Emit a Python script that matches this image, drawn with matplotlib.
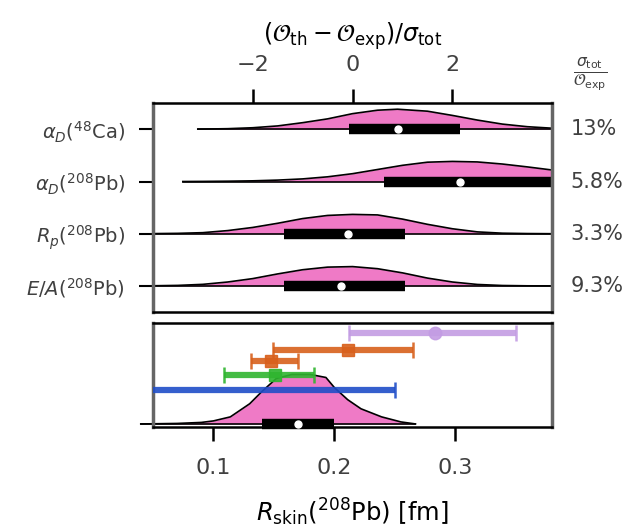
import numpy as np
import matplotlib
matplotlib.use('Agg')
import matplotlib.pyplot as plt

# ---- top panel: pulls (O_th - O_exp)/sigma_tot, half violins
obs_labels = [r'$\alpha_D(^{48}$Ca)', r'$\alpha_D(^{208}$Pb)',
              r'$R_p(^{208}$Pb)', r'$E/A(^{208}$Pb)']
rel_err = ['13%', '5.8%', '3.3%', '9.3%']

pull_x = [
    [-3.1, -2.5, -2.0, -1.5, -1.0, -0.5, 0.0, 0.5, 0.9, 1.5, 2.0, 2.5, 3.0, 3.5, 4.0],
    [-3.4, -3.0, -2.5, -2.0, -1.5, -1.0, -0.5, 0.0, 0.5, 1.0, 1.5, 2.0, 2.5, 3.0, 3.5, 4.0],
    [-4.0, -3.5, -3.0, -2.5, -2.0, -1.5, -1.0, -0.5, 0.0, 0.5, 1.0, 1.5, 2.0, 2.5, 3.0, 3.5, 4.0],
    [-4.0, -3.5, -3.0, -2.5, -2.0, -1.5, -1.0, -0.5, 0.0, 0.5, 1.0, 1.5, 2.0, 2.5, 3.0, 3.5, 4.0],
]
pull_h = [
    [0.003, 0.012, 0.03, 0.065, 0.127, 0.2, 0.3, 0.366, 0.385, 0.347, 0.266, 0.177, 0.1, 0.05, 0.021],
    [0.0, 0.002, 0.006, 0.013, 0.027, 0.05, 0.09, 0.15, 0.23, 0.31, 0.37, 0.385, 0.375, 0.335, 0.28, 0.22],
    [0.002, 0.007, 0.02, 0.06, 0.12, 0.2, 0.29, 0.35, 0.37, 0.36, 0.28, 0.18, 0.095, 0.035, 0.01, 0.003, 0.0],
    [0.003, 0.01, 0.03, 0.075, 0.14, 0.23, 0.31, 0.36, 0.37, 0.33, 0.25, 0.15, 0.075, 0.028, 0.008, 0.002, 0.0],
]
pull_q1 = [-0.08, 0.62, -1.38, -1.38]
pull_q3 = [2.16, 4.2, 1.06, 1.06]
pull_med = [0.92, 2.16, -0.1, -0.24]

# ---- bottom panel: Rskin(208Pb) posterior and measurements
skin_x = [0.04, 0.07, 0.09, 0.1, 0.114, 0.13, 0.14, 0.152, 0.165, 0.18, 0.193, 0.2,
          0.211, 0.222, 0.239, 0.255, 0.267]
skin_h = [0.0, 0.005, 0.015, 0.03, 0.07, 0.2, 0.32, 0.45, 0.49, 0.49, 0.46, 0.36,
          0.24, 0.15, 0.07, 0.02, 0.0]
skin_q1, skin_q3, skin_med = 0.14, 0.2, 0.17

meas_val = [0.15, 0.151, 0.148, 0.211, 0.283]
meas_lo = [0.04, 0.109, 0.131, 0.149, 0.212]
meas_hi = [0.25, 0.183, 0.17, 0.265, 0.35]
meas_y = [0.34, 0.48, 0.62, 0.73, 0.9]
meas_col = ['#1f4ec8', '#2fb52f', '#d8601c', '#d8601c', '#c39ce3']
meas_mk = ['none', 's', 's', 's', 'o']

pink = '#ef7ac6'
fs = 16

fig = plt.figure(figsize=(6.24, 5.32), dpi=100)
ax1 = fig.add_axes([0.245, 0.4135, 0.64, 0.3925])
ax2 = fig.add_axes([0.245, 0.1974, 0.64, 0.1956])

n = len(obs_labels)
for i in range(n):
    y0 = n - 1 - i
    x = np.array(pull_x[i])
    h = np.array(pull_h[i])
    ax1.fill_between(x, y0, y0 + h, color=pink, lw=0)
    ax1.plot(x, y0 + h, color='k', lw=1.2)
    ax1.plot([x[0], 4.0], [y0, y0], color='k', lw=1.2)
    ax1.plot([pull_q1[i], pull_q3[i]], [y0, y0], color='k', lw=7.5,
             solid_capstyle='butt')
    ax1.plot(pull_med[i], y0, 'o', color='white', ms=5, zorder=5)
    ax1.text(1.045, y0, rel_err[i], transform=ax1.get_yaxis_transform(),
             fontsize=15, va='center', ha='left', color='0.25')

ax1.set_xlim(-4, 4)
ax1.set_ylim(-0.5, n - 0.5)
ax1.set_yticks(range(n))
ax1.set_yticklabels(obs_labels[::-1], fontsize=14, color='0.25')
ax1.xaxis.tick_top()
ax1.xaxis.set_label_position('top')
ax1.set_xticks([-2, 0, 2])
ax1.set_xlabel(r'$(\mathcal{O}_{\rm th}-\mathcal{O}_{\rm exp})/\sigma_{\rm tot}$',
               fontsize=17, labelpad=10)
ax1.tick_params(axis='x', labelsize=fs, length=10, width=1.8, pad=10)
ax1.tick_params(axis='y', length=10, width=1.5, pad=10)
fig.text(0.945, 0.86, r'$\frac{\sigma_{\rm tot}}{\mathcal{O}_{\rm exp}}$',
         fontsize=fs, ha='center', va='center', color='0.25')

# bottom panel
sx = np.array(skin_x)
sh = np.array(skin_h)
ax2.fill_between(sx, 0, sh, color=pink, lw=0, zorder=1)
ax2.plot(sx, sh, color='k', lw=1.2, zorder=2, clip_on=False)
ax2.plot([sx[0], sx[-1]], [0, 0], color='k', lw=1.2, zorder=2, clip_on=False)
ax2.plot([skin_q1, skin_q3], [0, 0], color='k', lw=7.5, solid_capstyle='butt',
         zorder=3, clip_on=False)
ax2.plot(skin_med, 0, 'o', color='white', ms=5, zorder=4, clip_on=False)

for v, lo, hi, y, c, m in zip(meas_val, meas_lo, meas_hi, meas_y, meas_col, meas_mk):
    ax2.errorbar(v, y, xerr=[[v - lo], [hi - v]], fmt=m, color=c, ms=9, lw=4.5,
                 capsize=6, capthick=1.8, alpha=0.9, zorder=3)

ax2.set_xlim(0.05, 0.38)
ax2.set_ylim(-0.03, 1.0)
ax2.set_yticks([])
ax2.set_xticks([0.1, 0.2, 0.3])
ax2.tick_params(axis='x', labelsize=fs, length=10, width=1.8, pad=12)
ax2.set_xlabel(r'$R_{\rm skin}(^{208}$Pb) [fm]', fontsize=17.5, labelpad=14)

for ax in (ax1, ax2):
    for s in ('left', 'right'):
        ax.spines[s].set_linewidth(2.5)
        ax.spines[s].set_color('0.4')
    for s in ('top', 'bottom'):
        ax.spines[s].set_linewidth(1.8)
    for lab in ax.get_xticklabels():
        lab.set_color('0.25')

fig.savefig('out.png', dpi=100)
